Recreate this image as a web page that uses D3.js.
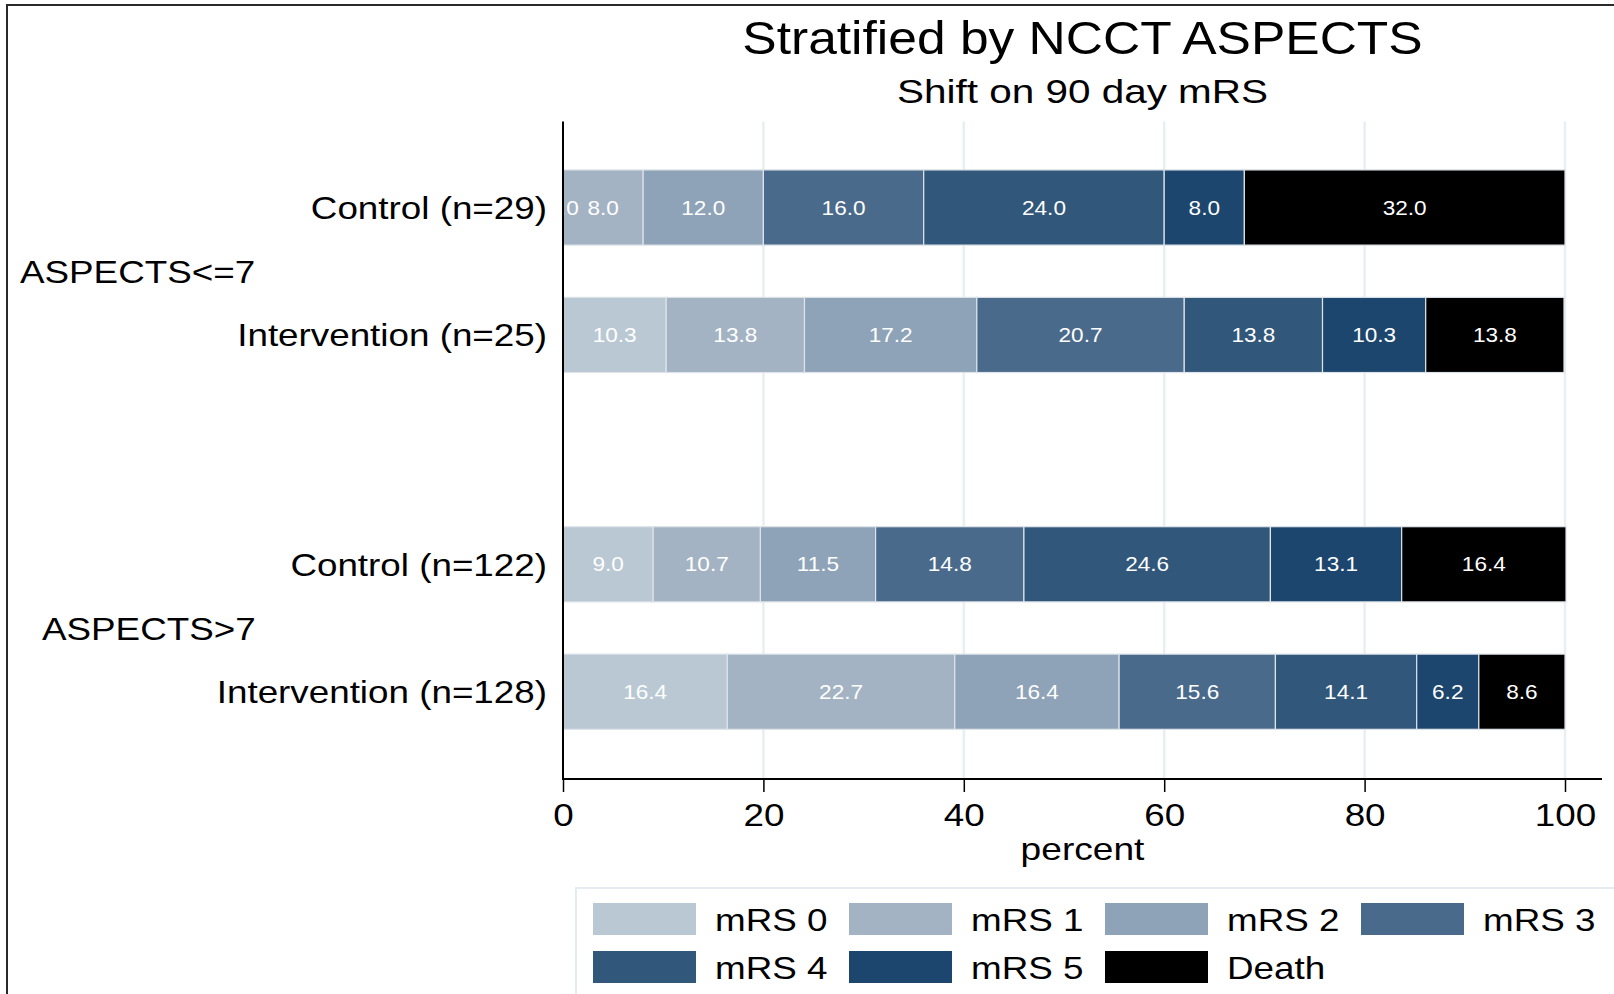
<!DOCTYPE html><html><head><meta charset="UTF-8"><script src="https://d3js.org/d3.v7.min.js"></script><style>
            body { margin: 0; background: #fff; }
            #chart { width: 1614px; height: 994px; overflow: hidden; }
            text { font-family: "Liberation Sans", Arial, Helvetica, sans-serif; }
        </style></head><body><div id="chart"></div><script>
            const categories = ["Control (n=29)", "Intervention (n=25)", "Control (n=122)", "Intervention (n=128)"];
            const groupOf = [0, 0, 1, 1];
            const groups = ["ASPECTS<=7", "ASPECTS>7"];
            const seriesNames = ["mRS 0", "mRS 1", "mRS 2", "mRS 3", "mRS 4", "mRS 5", "Death"];
            const mrs0 = [0.0, 10.3, 9.0, 16.4];
            const mrs1 = [8.0, 13.8, 10.7, 22.7];
            const mrs2 = [12.0, 17.2, 11.5, 16.4];
            const mrs3 = [16.0, 20.7, 14.8, 15.6];
            const mrs4 = [24.0, 13.8, 24.6, 14.1];
            const mrs5 = [8.0, 10.3, 13.1, 6.2];
            const death = [32.0, 13.8, 16.4, 8.6];
            const xTicks = [0, 20, 40, 60, 80, 100];
            const colors = ["#bac8d4", "#a3b3c3", "#8ea3b7", "#4a6a8b", "#31577b", "#1c466d", "#000000"];

            const seriesValues = [mrs0, mrs1, mrs2, mrs3, mrs4, mrs5, death];
            const rows = categories.map((c, i) => {
                const r = {category: c, group: groupOf[i], index: i};
                seriesNames.forEach((s, k) => r[s] = seriesValues[k][i]);
                return r;
            });
            const stacked = d3.stack().keys(seriesNames)(rows);

            const plot = {left: 563, right: 1565, top: 121.5, bottom: 779, axisEnd: 1602};
            const groupGap = 0.8;
            const barH = 0.59;

            const x = d3.scaleLinear().domain([0, 100]).range([plot.left, plot.right]);
            const y = d3.scaleLinear().domain([-0.675, 4.485]).range([plot.top, plot.bottom]);
            const rowPos = d => d.index + d.group * groupGap;
            const unit = y(1) - y(0);

            const svg = d3.select('#chart')
                .append('svg')
                .attr('width', 1614)
                .attr('height', 994);

            svg.append('rect').attr('width', 1614).attr('height', 994).attr('fill', '#fff');

            // outer frame (only top and left show)
            svg.append('rect')
                .attr('x', 7).attr('y', 5)
                .attr('width', 1700).attr('height', 1100)
                .attr('fill', 'none').attr('stroke', '#2a2a2a').attr('stroke-width', 2);

            // helper: stretched text like the reference
            function label(parent, txt, px, py, size, sx, anchor, fill) {
                return parent.append('text')
                    .attr('transform', `translate(${px},${py}) scale(${sx},1)`)
                    .attr('text-anchor', anchor || 'start')
                    .attr('font-size', size)
                    .attr('fill', fill || '#000')
                    .text(txt);
            }

            const midX = (plot.left + plot.axisEnd) / 2;
            label(svg, 'Stratified by NCCT ASPECTS', midX, 54, 46, 1.12, 'middle');
            label(svg, 'Shift on 90 day mRS', midX, 102.5, 34, 1.19, 'middle');

            // grid
            svg.append('g').selectAll('line')
                .data(xTicks.filter(d => d > 0))
                .enter().append('line')
                .attr('x1', d => x(d)).attr('x2', d => x(d))
                .attr('y1', plot.top).attr('y2', plot.bottom)
                .attr('stroke', '#e8eff2').attr('stroke-width', 2.5);

            svg.append('clipPath').attr('id', 'plotclip')
                .append('rect')
                .attr('x', plot.left + 1).attr('y', plot.top)
                .attr('width', plot.axisEnd - plot.left).attr('height', plot.bottom - plot.top);

            const bars = svg.append('g').attr('clip-path', 'url(#plotclip)');

            stacked.forEach((layer, k) => {
                const g = bars.append('g');
                g.selectAll('rect')
                    .data(layer)
                    .enter().append('rect')
                    .attr('x', d => x(d[0]))
                    .attr('width', d => x(d[1]) - x(d[0]))
                    .attr('y', d => y(rowPos(d.data)) - unit * barH / 2)
                    .attr('height', unit * barH)
                    .attr('fill', colors[k])
                    .attr('stroke', '#dde3e8')
                    .attr('stroke-width', 1.2);
            });

            stacked.forEach((layer) => {
                layer.forEach(d => {
                    label(bars, d3.format('.1f')(d[1] - d[0]),
                        (x(d[0]) + x(d[1])) / 2, y(rowPos(d.data)) + 7.2, 20, 1.13, 'middle', '#fff');
                });
            });

            // axes
            svg.append('line')
                .attr('x1', plot.left).attr('x2', plot.left)
                .attr('y1', plot.top).attr('y2', plot.bottom)
                .attr('stroke', '#000').attr('stroke-width', 2);
            svg.append('line')
                .attr('x1', plot.left - 1).attr('x2', plot.axisEnd)
                .attr('y1', plot.bottom).attr('y2', plot.bottom)
                .attr('stroke', '#000').attr('stroke-width', 2);

            const xAxis = svg.append('g')
                .attr('transform', `translate(0,${plot.bottom})`)
                .call(d3.axisBottom(x).tickValues(xTicks).tickSize(13).tickFormat(d3.format('d')));
            xAxis.select('.domain').remove();
            xAxis.selectAll('.tick line').attr('stroke', '#000').attr('stroke-width', 1.5);
            xAxis.selectAll('.tick text')
                .attr('y', 0).attr('dy', 0)
                .attr('transform', 'translate(0,46.5) scale(1.15,1)')
                .attr('font-size', 32).attr('fill', '#000')
                .attr('font-family', '"Liberation Sans", Arial, sans-serif');

            label(svg, 'percent', midX, 860, 32, 1.16, 'middle');

            // category labels
            rows.forEach(d => {
                label(svg, d.category, 547, y(rowPos(d)) + 11.5, 32, 1.15, 'end');
            });
            // group labels
            const groupX = [20, 42];
            groups.forEach((gname, gi) => {
                const idx = rows.filter(d => d.group === gi).map(rowPos);
                label(svg, gname, groupX[gi], y(d3.mean(idx)) + 11.5, 32, 1.15, 'start');
            });

            // legend
            const legend = svg.append('g');
            legend.append('rect')
                .attr('x', 576).attr('y', 888)
                .attr('width', 1200).attr('height', 300)
                .attr('fill', '#fff').attr('stroke', '#e6ecef').attr('stroke-width', 2);
            seriesNames.forEach((s, i) => {
                const col = i % 4, row = Math.floor(i / 4);
                const lx = 593 + col * 256, ly = 903 + row * 48;
                legend.append('rect')
                    .attr('x', lx).attr('y', ly)
                    .attr('width', 103).attr('height', 32)
                    .attr('fill', colors[i]);
                label(legend, s, lx + 122, ly + 28, 32, 1.15, 'start');
            });
        </script></body></html>
